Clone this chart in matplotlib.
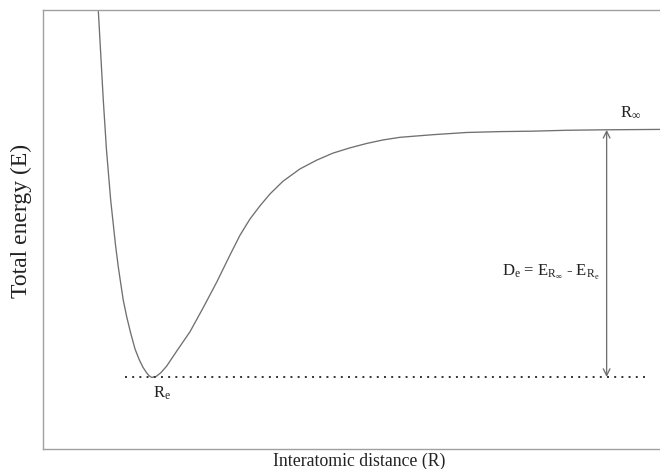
import matplotlib
matplotlib.use("Agg")
import matplotlib.pyplot as plt

plt.rcParams['font.family'] = ['Liberation Serif', 'DejaVu Serif']
plt.rcParams['mathtext.fontset'] = 'custom'
plt.rcParams['mathtext.rm'] = 'Liberation Serif'
plt.rcParams['mathtext.it'] = 'Liberation Serif'
plt.rcParams['mathtext.bf'] = 'Liberation Serif'

# Potential energy curve (arbitrary units)
R = [0.896, 0.932, 0.977, 1.029, 1.097, 1.175, 1.220, 1.259, 1.301, 1.357,
     1.421, 1.491, 1.561, 1.621, 1.677, 1.718, 1.762, 1.831, 1.912, 2.005,
     2.167, 2.382, 2.593, 2.815, 3.031, 3.193, 3.355, 3.517, 3.679, 3.890,
     4.165, 4.436, 4.700, 4.976, 5.246, 5.511, 5.786, 6.321, 6.867, 7.407,
     7.942, 8.476, 9.027, 10.0]
E = [10.00, 9.09, 7.95, 6.81, 5.67, 4.65, 4.15, 3.78, 3.39, 3.01,
     2.64, 2.28, 2.03, 1.86, 1.74, 1.67, 1.63, 1.65, 1.74, 1.89,
     2.23, 2.67, 3.21, 3.80, 4.42, 4.87, 5.24, 5.54, 5.81, 6.10,
     6.38, 6.58, 6.74, 6.86, 6.96, 7.04, 7.10, 7.16, 7.21, 7.23,
     7.24, 7.26, 7.27, 7.28]

E_min = 1.64          # energy at R_e
E_inf = 7.27          # energy at R_inf
dot_span = [1.33, 9.81]
arrow_R = 9.135

fig = plt.figure(figsize=(6.6, 4.69), dpi=100)
ax = fig.add_axes([43/660, 20/469, 617/660, 439/469])
ax.set_xlim(0, 10)
ax.set_ylim(0, 10)
ax.set_xticks([])
ax.set_yticks([])
for s in ['left', 'top', 'bottom']:
    ax.spines[s].set_color('#a0a0a0')
    ax.spines[s].set_linewidth(1.0)
ax.spines['right'].set_visible(False)

ax.plot(R, E, color='#707070', lw=0.95, clip_on=True,
        solid_joinstyle='round')

ax.plot(dot_span, [E_min, E_min], color='#333333', lw=1.4,
        linestyle=(0, (1, 2.7)), dash_capstyle='butt')

ax.annotate('', xy=(arrow_R, E_min), xytext=(arrow_R, E_inf),
            arrowprops=dict(arrowstyle='<->', color='#707070', lw=0.95,
                            mutation_scale=12, shrinkA=0, shrinkB=0))

tc = '#222222'
ax.text(9.35, 7.65, r'R$_{\infty}$', fontsize=12, color=tc, va='center', ha='left')
ax.text(1.78, 1.28, r'R$_{\mathrm{e}}$', fontsize=12, color=tc, va='center', ha='left')
ax.text(7.44, 4.03, r'D$_{\mathrm{e}}$ = E$_{\mathrm{R}_{\infty}}$ - E$_{\mathrm{R}_{\mathrm{e}}}$',
        fontsize=12, color=tc, va='center', ha='left')

fig.text(359/660, 1 - 461/469, 'Interatomic distance (R)', fontsize=12.8,
         color=tc, ha='center', va='center')
fig.text(21/660, 1 - 221/469, 'Total energy (E)', fontsize=17, rotation=90,
         color=tc, ha='center', va='center')

fig.savefig('out.png', dpi=100)
